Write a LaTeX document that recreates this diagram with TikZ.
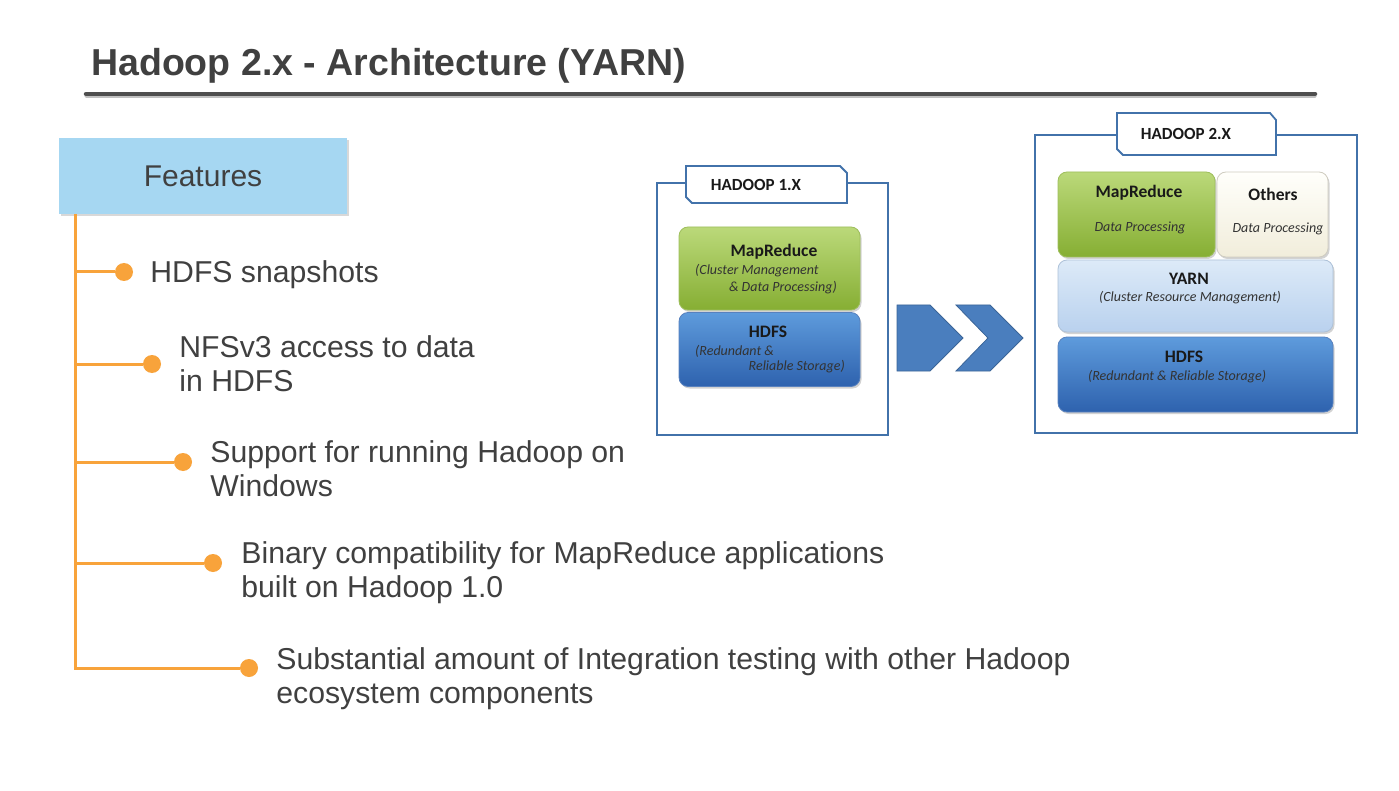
\documentclass[tikz,border=0pt]{standalone}
\usepackage{fontspec}
\setmainfont{Liberation Sans}
\newfontfamily\boxfont{Carlito}
\usetikzlibrary{positioning,shadows}
\definecolor{textgray}{HTML}{404040}
\definecolor{rulegray}{HTML}{4F4F4F}
\definecolor{featblue}{HTML}{A6D7F2}
\definecolor{treeorange}{HTML}{F8A33B}
\definecolor{frameblue}{HTML}{4272AA}
\definecolor{mrtop}{HTML}{BBD97A}
\definecolor{mrbot}{HTML}{86AE33}
\definecolor{hdfstop}{HTML}{5E9BDC}
\definecolor{hdfsbot}{HTML}{2E62AE}
\definecolor{yarntop}{HTML}{DDEAF8}
\definecolor{yarnbot}{HTML}{B9D1EE}
\definecolor{othtop}{HTML}{FFFFFB}
\definecolor{othbot}{HTML}{F1EDDB}
\definecolor{chevblue}{HTML}{4A7EBE}

\tikzset{
  title/.style={font=\fontsize{37.5}{44}\selectfont\bfseries, text=textgray, inner sep=0pt, anchor=base west},
  featbox/.style={fill=featblue, minimum width=288pt, minimum height=76pt, inner sep=0pt,
    font=\fontsize{30}{34}\selectfont, text=textgray,
    drop shadow={opacity=0.3, shadow xshift=2pt, shadow yshift=-2pt}},
  dot/.style={circle, fill=treeorange, minimum size=18pt, inner sep=0pt},
  branch/.style={draw=treeorange, line width=3pt},
  item/.style={font=\fontsize{30.2}{34}\selectfont, text=textgray, align=left, inner sep=0pt},
  frame/.style={draw=frameblue, line width=1.8pt},
  tabtext/.style={font=\boxfont\fontsize{17}{20}\selectfont\bfseries, text=black!90},
  layer/.style={rounded corners=9pt, draw=#1, line width=0.8pt, inner sep=0pt,
    drop shadow={opacity=0.35, shadow xshift=1.5pt, shadow yshift=-2pt}},
  head/.style={font=\boxfont\fontsize{17.5}{20}\selectfont\bfseries, text=black!90, inner sep=0pt},
  sub/.style={font=\boxfont\fontsize{14}{16}\selectfont\itshape, text=black!80, inner sep=0pt},
  chev/.style={fill=chevblue, draw=chevblue!80!black, line width=0.8pt, line join=miter}
}

\begin{document}
\begin{tikzpicture}[x=1pt,y=-1pt]
\fill[white] (0,0) rectangle (1399,791);
\node[title] (ttl) at (91,76) {Hadoop 2.x - Architecture (YARN)};
\draw[rulegray!35, line width=3pt, line cap=round] (86,97) -- (1315,97);
\draw[rulegray, line width=4.5pt, line cap=round] (86,94) -- (1315,94);

\node[featbox] (feat) at (203,176) {Features};
\coordinate (t0) at (75,214);
\node[dot] (d1) at (124,272) {};
\node[dot] (d2) at (152,364) {};
\node[dot] (d3) at (183,462) {};
\node[dot] (d4) at (213,563) {};
\node[dot] (d5) at (249,668) {};
\draw[branch] (t0) |- (d5);
\draw[branch] (t0 |- d1) -- (d1);
\draw[branch] (t0 |- d2) -- (d2);
\draw[branch] (t0 |- d3) -- (d3);
\draw[branch] (t0 |- d4) -- (d4);
\node[item, right=17pt of d1, yshift=-3pt] (i1) {HDFS snapshots};
\node[item, right=18pt of d2] (i2) {NFSv3 access to data\\in HDFS};
\node[item, right=18pt of d3, yshift=-7pt] (i3) {Support for running Hadoop on\\Windows};
\node[item, right=19pt of d4, yshift=-10pt] (i4) {Binary compatibility for MapReduce applications\\built on Hadoop 1.0};
\node[item, right=18pt of d5, yshift=-11pt] (i5) {Substantial amount of Integration testing with other Hadoop\\ecosystem components};

\draw[frame] (657,183) rectangle (888,435);
\draw[frame, fill=white] (686,166) -- (840,166) -- (847,173) -- (847,203) -- (692,203) -- (686,197) -- cycle;
\node[tabtext] (h1) at (756,185) {HADOOP 1.X};
\node[layer=mrbot!80!white, top color=mrtop, bottom color=mrbot, minimum width=181pt, minimum height=83pt] (mr1) at (769.5,268.5) {};
\node[layer=hdfsbot!80!white, top color=hdfstop, bottom color=hdfsbot, minimum width=181pt, minimum height=74pt] (hd1) at (769.5,349.5) {};
\node[head] (mr1h) at (774,252) {MapReduce};
\node[sub, anchor=west] (mr1a) at (695,271) {(Cluster Management};
\node[sub, anchor=east] (mr1b) at (837,288) {\& Data Processing)};
\node[head] (hd1h) at (768,332) {HDFS};
\node[sub, anchor=west] (hd1a) at (695,351) {(Redundant \&};
\node[sub, anchor=east] (hd1b) at (845,367) {Reliable Storage)};

\draw[chev] (897,305) -- (930,305) -- (963,338) -- (930,371) -- (897,371) -- cycle;
\draw[chev] (956,305) -- (990,305) -- (1023,338) -- (990,371) -- (956,371) -- (988,338) -- cycle;

\draw[frame] (1035,135) rectangle (1357,433);
\draw[frame, fill=white] (1117,113) -- (1270,113) -- (1276,120) -- (1276,155) -- (1123,155) -- (1117,149) -- cycle;
\node[tabtext] (h2) at (1186,134) {HADOOP 2.X};
\node[layer=mrbot!80!white, top color=mrtop, bottom color=mrbot, minimum width=157pt, minimum height=85pt] (mr2) at (1136.5,214.5) {};
\node[layer=othbot!70!gray, top color=othtop, bottom color=othbot, minimum width=111pt, minimum height=85pt] (oth2) at (1272.5,214.5) {};
\node[layer=yarnbot!80!gray, top color=yarntop, bottom color=yarnbot, minimum width=275pt, minimum height=72pt] (yarn2) at (1195.5,296) {};
\node[layer=hdfsbot!80!white, top color=hdfstop, bottom color=hdfsbot, minimum width=275pt, minimum height=75pt] (hd2) at (1195.5,374.5) {};
\node[head] (mr2h) at (1139,193) {MapReduce};
\node[sub] (mr2s) at (1140,228) {Data Processing};
\node[head] (oth2h) at (1273,194) {Others};
\node[sub] (oth2s) at (1278,229) {Data Processing};
\node[head] (yarn2h) at (1189,279) {YARN};
\node[sub] (yarn2s) at (1190,298) {(Cluster Resource Management)};
\node[head] (hd2h) at (1184,357) {HDFS};
\node[sub] (hd2s) at (1177,377) {(Redundant \& Reliable Storage)};
\end{tikzpicture}
\end{document}
